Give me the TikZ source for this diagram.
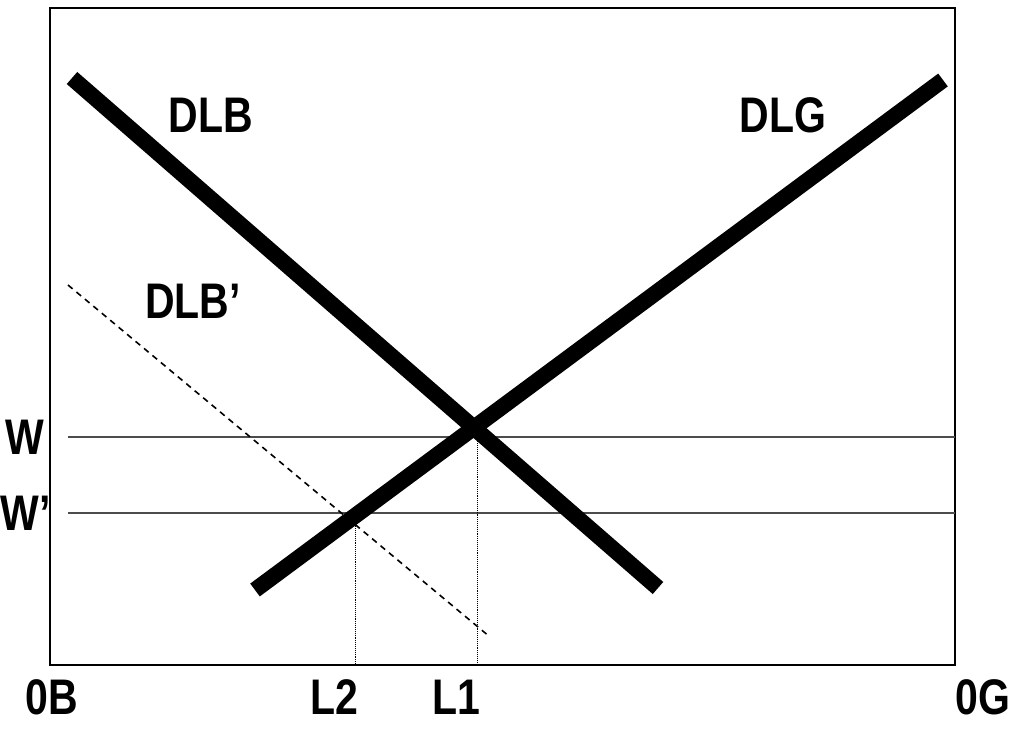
\documentclass[tikz,border=0pt]{standalone}
\usepackage{fontspec}
\setmainfont{Liberation Sans}
\begin{document}
\begin{tikzpicture}[x=1pt,y=-1pt,
  lbl/.style={font=\fontsize{50}{50}\selectfont\bfseries, xscale=0.82, inner sep=0pt},
  curve/.style={line width=16pt, line cap=butt},
  level/.style={line width=1.3pt, black!70},
  drop/.style={line width=0.9pt, densely dotted},
  shifted/.style={line width=1.6pt, dash pattern=on 6pt off 5pt}]
\useasboundingbox (0,0) rectangle (1017,728);
% frame
\coordinate (tl) at (50,8);
\coordinate (br) at (955,665);
\draw[line width=2pt] (tl) rectangle (br);
% horizontal levels
\coordinate (w0) at (68,437);
\coordinate (w1) at (955,437);
\coordinate (v0) at (68,513);
\coordinate (v1) at (955,513);
\draw[level] (w0) -- (w1);
\draw[level] (v0) -- (v1);
% vertical drops
\coordinate (l1t) at (477,428);
\coordinate (l1b) at (477,665);
\coordinate (l2t) at (355,513);
\coordinate (l2b) at (355,665);
\draw[drop] (l1t) -- (l1b);
\draw[drop] (l2t) -- (l2b);
% dashed DLB'
\coordinate (d0) at (68,285);
\coordinate (d1) at (490,637);
\draw[shifted] (d0) -- (d1);
% thick curves
\coordinate (b0) at (72,78);
\coordinate (b1) at (658,588);
\coordinate (g0) at (255,590);
\coordinate (g1) at (943,80);
\draw[curve] (b0) -- (b1);
\draw[curve] (g0) -- (g1);
% labels
\node[lbl] (tDLB) at (211,115) {DLB};
\node[lbl] (tDLG) at (783,115) {DLG};
\node[lbl] (tDLBp) at (193,301) {DLB'};
\node[lbl] (tW) at (25,437) {W};
\node[lbl] (tWp) at (26,513) {W'};
\node[lbl] (t0B) at (52,697) {0B};
\node[lbl] (tL2) at (334,697) {L2};
\node[lbl] (tL1) at (456,697) {L1};
\node[lbl] (t0G) at (983,697) {0G};
\end{tikzpicture}
\end{document}
